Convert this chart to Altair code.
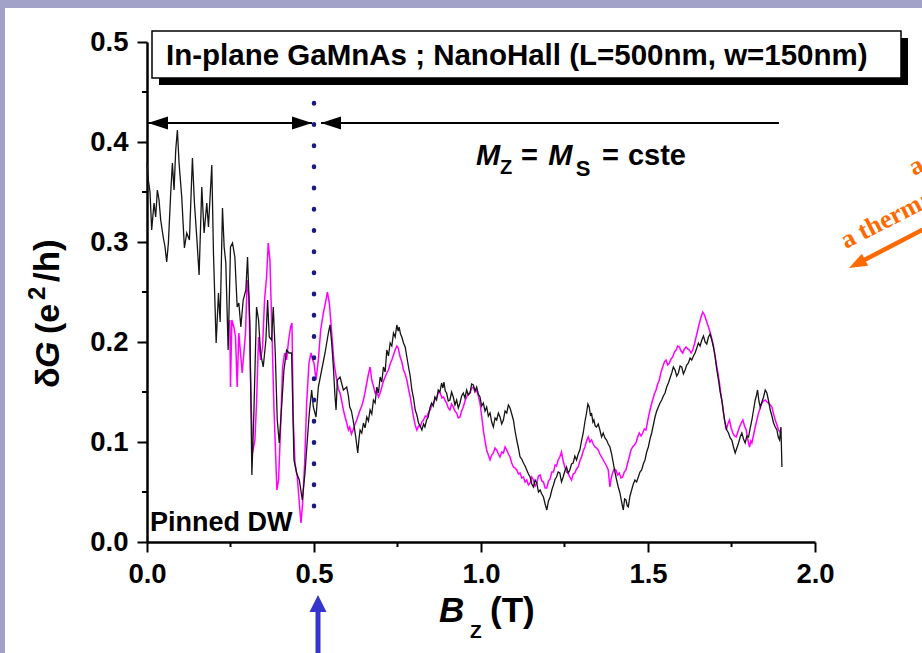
import altair as alt
import pandas as pd

# ---------------- data ----------------
black_pts = [
(0.000,0.379),(0.004,0.362),(0.009,0.350),(0.014,0.312),(0.021,0.339),(0.026,0.325),(0.031,0.352),(0.036,0.342),
(0.041,0.322),(0.049,0.304),(0.054,0.295),(0.059,0.280),(0.064,0.299),(0.071,0.349),(0.076,0.379),(0.081,0.352),
(0.086,0.392),(0.091,0.412),(0.096,0.379),(0.104,0.345),(0.112,0.294),(0.119,0.309),(0.127,0.302),(0.136,0.384),
(0.142,0.339),(0.149,0.305),(0.156,0.267),(0.164,0.355),(0.171,0.309),(0.179,0.339),(0.184,0.315),(0.194,0.377),
(0.199,0.289),(0.207,0.199),(0.214,0.249),(0.219,0.220),(0.226,0.334),(0.231,0.295),(0.236,0.279),(0.243,0.192),
(0.250,0.295),(0.256,0.299),(0.263,0.285),(0.270,0.235),(0.275,0.239),(0.281,0.215),(0.288,0.242),(0.296,0.252),
(0.301,0.285),(0.308,0.219),(0.314,0.067),(0.320,0.129),(0.328,0.235),(0.334,0.222),(0.340,0.189),(0.348,0.175),
(0.356,0.202),(0.361,0.242),(0.366,0.205),(0.373,0.202),(0.378,0.235),(0.384,0.189),(0.390,0.122),(0.396,0.099),
(0.403,0.135),(0.410,0.172),(0.418,0.192),(0.425,0.189),(0.433,0.189),(0.440,0.082),(0.448,0.069),(0.456,0.062),
(0.465,0.042),(0.473,0.069),(0.480,0.102),(0.486,0.129),(0.493,0.152),(0.498,0.135),(0.506,0.125),(0.513,0.155),
(0.523,0.172),(0.533,0.189),(0.543,0.209),(0.548,0.217),(0.553,0.199),(0.558,0.175),(0.563,0.145),(0.566,0.132),
(0.570,0.162),(0.578,0.165),(0.588,0.152),(0.598,0.155),(0.603,0.146),(0.607,0.135),(0.612,0.131),(0.617,0.122),
(0.621,0.114),(0.625,0.105),(0.631,0.089),(0.635,0.104),(0.638,0.112),(0.643,0.109),(0.648,0.119),(0.653,0.114),
(0.658,0.125),(0.663,0.121),(0.668,0.132),(0.673,0.128),(0.678,0.142),(0.683,0.139),(0.688,0.155),(0.693,0.149),
(0.698,0.165),(0.703,0.160),(0.708,0.175),(0.713,0.170),(0.718,0.192),(0.723,0.186),(0.728,0.199),(0.733,0.196),
(0.738,0.209),(0.743,0.205),(0.748,0.217),(0.752,0.211),(0.755,0.215),(0.759,0.208),(0.763,0.205),(0.768,0.199),
(0.773,0.195),(0.778,0.185),(0.783,0.175),(0.788,0.166),(0.793,0.152),(0.798,0.144),(0.803,0.132),(0.808,0.127),
(0.813,0.119),(0.818,0.116),(0.823,0.112),(0.828,0.118),(0.832,0.115),(0.837,0.122),(0.842,0.125),(0.847,0.134),
(0.852,0.139),(0.857,0.136),(0.862,0.145),(0.867,0.142),(0.872,0.152),(0.877,0.150),(0.882,0.159),(0.886,0.154),
(0.889,0.160),(0.893,0.151),(0.897,0.149),(0.902,0.141),(0.907,0.142),(0.912,0.150),(0.917,0.145),(0.922,0.137),
(0.927,0.142),(0.932,0.134),(0.937,0.139),(0.942,0.146),(0.947,0.149),(0.952,0.144),(0.957,0.152),(0.962,0.147),
(0.967,0.149),(0.972,0.158),(0.977,0.157),(0.982,0.151),(0.987,0.155),(0.992,0.148),(0.997,0.145),(1.002,0.136),
(1.007,0.139),(1.012,0.131),(1.017,0.135),(1.022,0.126),(1.027,0.129),(1.032,0.120),(1.037,0.115),(1.042,0.124),
(1.047,0.122),(1.052,0.129),(1.057,0.125),(1.062,0.118),(1.067,0.122),(1.072,0.131),(1.077,0.129),(1.082,0.137),
(1.087,0.134),(1.092,0.128),(1.097,0.122),(1.102,0.111),(1.107,0.102),(1.112,0.094),(1.117,0.085),(1.122,0.083),
(1.127,0.079),(1.132,0.076),(1.137,0.072),(1.142,0.068),(1.147,0.065),(1.152,0.058),(1.157,0.055),(1.162,0.062),
(1.167,0.059),(1.172,0.050),(1.177,0.052),(1.182,0.048),(1.187,0.045),(1.192,0.038),(1.197,0.032),(1.202,0.041),
(1.207,0.045),(1.212,0.052),(1.217,0.057),(1.222,0.063),(1.226,0.065),(1.231,0.070),(1.236,0.069),(1.241,0.060),
(1.246,0.065),(1.251,0.071),(1.256,0.075),(1.261,0.069),(1.266,0.072),(1.271,0.078),(1.276,0.079),(1.281,0.086),
(1.286,0.082),(1.291,0.088),(1.296,0.092),(1.301,0.101),(1.306,0.109),(1.311,0.120),(1.316,0.129),(1.320,0.138),
(1.324,0.135),(1.328,0.126),(1.331,0.129),(1.335,0.120),(1.338,0.122),(1.342,0.116),(1.346,0.115),(1.351,0.118),
(1.356,0.112),(1.361,0.105),(1.366,0.109),(1.371,0.104),(1.376,0.102),(1.381,0.098),(1.386,0.095),(1.391,0.088),
(1.396,0.079),(1.401,0.070),(1.406,0.062),(1.411,0.055),(1.416,0.049),(1.421,0.040),(1.426,0.032),(1.430,0.043),
(1.434,0.042),(1.438,0.036),(1.441,0.035),(1.446,0.046),(1.451,0.052),(1.456,0.058),(1.461,0.062),(1.466,0.060),
(1.471,0.065),(1.476,0.070),(1.481,0.072),(1.486,0.078),(1.491,0.082),(1.496,0.090),(1.501,0.095),(1.506,0.103),
(1.511,0.109),(1.516,0.117),(1.521,0.125),(1.526,0.131),(1.531,0.135),(1.536,0.139),(1.541,0.142),(1.546,0.146),
(1.551,0.149),(1.556,0.155),(1.561,0.159),(1.566,0.164),(1.571,0.169),(1.576,0.175),(1.581,0.172),(1.586,0.166),
(1.591,0.169),(1.596,0.176),(1.601,0.175),(1.606,0.168),(1.611,0.172),(1.616,0.177),(1.621,0.179),(1.626,0.184),
(1.631,0.182),(1.636,0.186),(1.641,0.189),(1.646,0.194),(1.651,0.199),(1.656,0.196),(1.661,0.202),(1.666,0.206),
(1.671,0.200),(1.676,0.198),(1.681,0.205),(1.686,0.208),(1.691,0.202),(1.696,0.195),(1.701,0.185),(1.706,0.172),
(1.711,0.162),(1.716,0.150),(1.721,0.142),(1.726,0.129),(1.731,0.119),(1.736,0.112),(1.741,0.109),(1.746,0.104),
(1.751,0.102),(1.756,0.095),(1.761,0.089),(1.766,0.094),(1.771,0.099),(1.776,0.105),(1.781,0.109),(1.786,0.103),
(1.791,0.099),(1.796,0.106),(1.801,0.105),(1.806,0.114),(1.811,0.122),(1.816,0.132),(1.821,0.142),(1.825,0.147),
(1.828,0.152),(1.832,0.141),(1.836,0.135),(1.841,0.140),(1.846,0.145),(1.851,0.152),(1.856,0.149),(1.861,0.141),
(1.866,0.132),(1.871,0.126),(1.876,0.119),(1.881,0.115),(1.886,0.112),(1.890,0.105),(1.894,0.102),(1.898,0.115),
(1.901,0.075),
]

magenta_pts = [
(0.248,0.222),(0.250,0.155),(0.254,0.222),(0.260,0.215),(0.265,0.205),(0.270,0.155),(0.275,0.209),(0.280,0.189),
(0.285,0.169),(0.290,0.189),(0.295,0.209),(0.300,0.262),(0.305,0.245),(0.310,0.162),(0.316,0.089),(0.323,0.102),
(0.328,0.139),(0.334,0.205),(0.340,0.182),(0.346,0.195),(0.352,0.242),(0.358,0.265),(0.363,0.299),(0.368,0.282),
(0.374,0.212),(0.380,0.135),(0.385,0.089),(0.389,0.052),(0.394,0.062),(0.400,0.115),(0.406,0.175),(0.412,0.189),
(0.418,0.182),(0.424,0.202),(0.430,0.215),(0.434,0.219),(0.438,0.122),(0.443,0.079),(0.450,0.065),(0.456,0.039),
(0.461,0.019),(0.466,0.039),(0.472,0.079),(0.478,0.139),(0.485,0.179),(0.491,0.189),(0.496,0.182),(0.500,0.179),
(0.506,0.162),(0.513,0.182),(0.520,0.212),(0.528,0.229),(0.536,0.242),(0.540,0.250),(0.546,0.239),(0.553,0.209),
(0.560,0.179),(0.568,0.162),(0.573,0.153),(0.578,0.149),(0.583,0.141),(0.588,0.132),(0.593,0.125),(0.598,0.119),
(0.603,0.112),(0.607,0.115),(0.612,0.108),(0.617,0.112),(0.622,0.117),(0.628,0.122),(0.633,0.127),(0.638,0.132),
(0.643,0.136),(0.648,0.142),(0.653,0.150),(0.658,0.159),(0.663,0.168),(0.668,0.175),(0.673,0.162),(0.678,0.156),
(0.683,0.149),(0.688,0.151),(0.693,0.145),(0.698,0.149),(0.703,0.155),(0.708,0.161),(0.713,0.165),(0.718,0.169),
(0.723,0.172),(0.728,0.178),(0.733,0.182),(0.738,0.187),(0.743,0.192),(0.748,0.196),(0.752,0.194),(0.758,0.185),
(0.763,0.180),(0.768,0.172),(0.773,0.168),(0.778,0.162),(0.783,0.153),(0.788,0.145),(0.793,0.135),(0.798,0.125),
(0.803,0.117),(0.808,0.112),(0.813,0.116),(0.818,0.115),(0.823,0.120),(0.828,0.122),(0.833,0.126),(0.838,0.125),
(0.843,0.130),(0.848,0.132),(0.853,0.137),(0.858,0.139),(0.863,0.143),(0.868,0.145),(0.873,0.150),(0.878,0.149),
(0.883,0.144),(0.888,0.145),(0.893,0.141),(0.897,0.139),(0.902,0.134),(0.907,0.132),(0.912,0.138),(0.917,0.135),
(0.922,0.131),(0.927,0.129),(0.932,0.124),(0.937,0.125),(0.942,0.131),(0.947,0.135),(0.952,0.141),(0.957,0.145),
(0.962,0.148),(0.967,0.149),(0.972,0.154),(0.977,0.155),(0.982,0.150),(0.987,0.152),(0.992,0.146),(0.997,0.139),
(1.002,0.126),(1.007,0.112),(1.012,0.101),(1.017,0.092),(1.022,0.087),(1.027,0.082),(1.032,0.087),(1.037,0.089),
(1.042,0.094),(1.047,0.092),(1.052,0.088),(1.057,0.085),(1.062,0.090),(1.067,0.089),(1.072,0.095),(1.077,0.092),
(1.082,0.088),(1.087,0.085),(1.092,0.079),(1.097,0.075),(1.102,0.074),(1.107,0.072),(1.112,0.068),(1.117,0.069),
(1.122,0.064),(1.127,0.065),(1.132,0.060),(1.137,0.062),(1.142,0.057),(1.147,0.059),(1.152,0.065),(1.157,0.062),
(1.162,0.056),(1.167,0.059),(1.172,0.066),(1.177,0.067),(1.182,0.061),(1.187,0.060),(1.192,0.054),(1.197,0.054),
(1.202,0.061),(1.207,0.063),(1.212,0.070),(1.217,0.070),(1.222,0.077),(1.226,0.076),(1.231,0.082),(1.236,0.085),
(1.241,0.090),(1.246,0.081),(1.251,0.075),(1.256,0.070),(1.261,0.069),(1.266,0.065),(1.271,0.062),(1.276,0.068),
(1.281,0.069),(1.286,0.073),(1.291,0.075),(1.296,0.081),(1.301,0.085),(1.306,0.091),(1.311,0.095),(1.316,0.101),
(1.321,0.105),(1.326,0.100),(1.331,0.102),(1.336,0.098),(1.341,0.095),(1.346,0.094),(1.351,0.092),(1.356,0.088),
(1.361,0.085),(1.366,0.082),(1.371,0.079),(1.376,0.076),(1.381,0.072),(1.386,0.055),(1.390,0.064),(1.394,0.069),
(1.399,0.073),(1.404,0.072),(1.409,0.067),(1.414,0.069),(1.419,0.064),(1.424,0.065),(1.429,0.070),(1.434,0.072),
(1.439,0.079),(1.444,0.085),(1.449,0.092),(1.454,0.095),(1.459,0.097),(1.464,0.099),(1.469,0.105),(1.474,0.109),
(1.479,0.106),(1.484,0.109),(1.489,0.113),(1.494,0.112),(1.499,0.121),(1.504,0.129),(1.509,0.136),(1.514,0.142),
(1.519,0.148),(1.524,0.152),(1.529,0.158),(1.534,0.162),(1.539,0.170),(1.544,0.175),(1.549,0.180),(1.554,0.182),
(1.559,0.177),(1.564,0.179),(1.569,0.183),(1.574,0.185),(1.579,0.190),(1.584,0.192),(1.589,0.196),(1.594,0.195),
(1.599,0.191),(1.604,0.189),(1.609,0.193),(1.614,0.195),(1.619,0.193),(1.624,0.192),(1.629,0.189),(1.634,0.192),
(1.639,0.198),(1.644,0.205),(1.649,0.212),(1.654,0.219),(1.659,0.225),(1.664,0.230),(1.669,0.227),(1.674,0.222),
(1.679,0.217),(1.684,0.212),(1.689,0.206),(1.694,0.199),(1.699,0.190),(1.704,0.179),(1.709,0.170),(1.714,0.159),
(1.719,0.146),(1.724,0.135),(1.729,0.122),(1.734,0.112),(1.739,0.118),(1.744,0.122),(1.749,0.114),(1.754,0.109),
(1.759,0.106),(1.764,0.105),(1.769,0.110),(1.774,0.115),(1.779,0.119),(1.784,0.122),(1.789,0.116),(1.794,0.112),
(1.799,0.102),(1.804,0.095),(1.808,0.101),(1.811,0.099),(1.816,0.107),(1.821,0.115),(1.826,0.122),(1.831,0.129),
(1.836,0.134),(1.841,0.139),(1.846,0.141),(1.851,0.142),(1.856,0.140),(1.861,0.139),(1.866,0.137),(1.871,0.135),
(1.876,0.128),(1.881,0.122),(1.886,0.117),(1.891,0.112),(1.895,0.110),(1.898,0.109),
]

x_major = [0.0, 0.5, 1.0, 1.5, 2.0]
x_minor = [0.25, 0.75, 1.25, 1.75]
y_major = [0.0, 0.1, 0.2, 0.3, 0.4, 0.5]
y_minor = [0.05, 0.15, 0.25, 0.35, 0.45]

# arrows (B in T, dG in e^2/h)
arrow_y = 0.419
arrow_lines = pd.DataFrame({"x": [0.003, 0.521], "x2": [0.494, 1.892], "y": [arrow_y, arrow_y]})
heads_left = pd.DataFrame({"x": [0.003, 0.521], "y": [arrow_y, arrow_y]})
heads_right = pd.DataFrame({"x": [0.494], "y": [arrow_y]})
dw_line = pd.DataFrame({"x": [0.5], "y": [0.439], "y2": [0.015]})

bold_txt = pd.DataFrame({
    "x": [1.057, 1.120, 1.284, 1.362, 1.440, 0.009],
    "y": [0.368, 0.377, 0.366, 0.377, 0.377, 0.011],
    "t": ["Z", "=", "S", "=", "cste", "Pinned DW"],
    "fs": [20, 29, 22, 29, 29, 27],
})
ital_txt = pd.DataFrame({"x": [0.985, 1.201], "y": [0.377, 0.377], "t": ["M", "M"], "fs": [29, 29]})

# ---------------- chart ----------------
FONT = "Liberation Sans"
xs = alt.Scale(domain=[0, 2], nice=False, zero=False)
ys = alt.Scale(domain=[0, 0.5], nice=False, zero=False)

axis_common = dict(format=".1f", title=None, tickSize=10, tickWidth=2, domainWidth=2.5,
                   labelFontSize=27.5, labelFontWeight="bold", labelFont=FONT, labelColor="black",
                   domainColor="black", tickColor="black", grid=False, labelFlush=False)
AX = alt.Axis(values=x_major, labelPadding=8, **axis_common)
AY = alt.Axis(values=y_major, labelPadding=9, **axis_common)


def X(f):
    return alt.X(f, scale=xs, axis=AX, title=None)


def Y(f):
    return alt.Y(f, scale=ys, axis=AY, title=None)


bdf = pd.DataFrame(black_pts, columns=["B", "dG"])
mdf = pd.DataFrame(magenta_pts, columns=["B", "dG"])

magenta_line = alt.Chart(mdf).mark_line(color="#ff00ff", strokeWidth=1.5).encode(
    x=X("B:Q"), y=Y("dG:Q"))
black_line = alt.Chart(bdf).mark_line(color="#151515", strokeWidth=1.3).encode(
    x=X("B:Q"), y=Y("dG:Q"))

xminor = alt.Chart(pd.DataFrame({"B": x_minor})).mark_rule(color="black", strokeWidth=2).encode(
    x=X("B:Q"), y=alt.value(500), y2=alt.value(505))
yminor = alt.Chart(pd.DataFrame({"dG": y_minor})).mark_rule(color="black", strokeWidth=2).encode(
    y=Y("dG:Q"), x=alt.value(-5), x2=alt.value(0))

arrows = alt.Chart(arrow_lines).mark_rule(color="black", strokeWidth=2).encode(
    x=X("x:Q"), x2="x2:Q", y=Y("y:Q"))
hl = alt.Chart(heads_left).mark_point(shape="M 0 0 L 2 -0.65 L 2 0.65 Z", filled=True, size=400,
                                      color="black", opacity=1).encode(x=X("x:Q"), y=Y("y:Q"))
hr = alt.Chart(heads_right).mark_point(shape="M 0 0 L -2 -0.65 L -2 0.65 Z", filled=True, size=400,
                                       color="black", opacity=1).encode(x=X("x:Q"), y=Y("y:Q"))
dots = alt.Chart(dw_line).mark_rule(color="#1b1b7a", strokeWidth=4.5, strokeDash=[0.5, 20.7],
                                    strokeCap="round").encode(x=X("x:Q"), y=Y("y:Q"), y2="y2:Q")

btxt = alt.Chart(bold_txt).mark_text(align="left", baseline="alphabetic", fontWeight="bold",
                                     font=FONT, color="black").encode(
    x=X("x:Q"), y=Y("y:Q"), text="t:N", size=alt.Size("fs:Q", scale=None, legend=None))
itxt = alt.Chart(ital_txt).mark_text(align="left", baseline="alphabetic", fontWeight="bold",
                                     fontStyle="italic", font=FONT, color="black").encode(
    x=X("x:Q"), y=Y("y:Q"), text="t:N", size=alt.Size("fs:Q", scale=None, legend=None))

ONE = alt.Data(values=[{}])


def ptext(t, x, y, fs, style="normal", angle=0, color="black", font=FONT):
    return alt.Chart(ONE).mark_text(text=t, align="left", baseline="alphabetic", fontSize=fs,
                                    fontWeight="bold", fontStyle=style, angle=angle,
                                    color=color, font=font).encode(x=alt.value(x), y=alt.value(y))


def prect(x, x2, y, y2, **kw):
    return alt.Chart(ONE).mark_rect(**kw).encode(x=alt.value(x), x2=alt.value(x2),
                                                 y=alt.value(y), y2=alt.value(y2))


LAV = "#a2a2c8"
decor = [
    prect(-147, 775, -42, -34, color=LAV),
    prect(-147, -142, -42, 611, color=LAV),
    prect(12, 761, -4, 43, color="black"),
    prect(5, 754, -11, 36, fill="white", stroke="black", strokeWidth=1.5),
]

ORANGE = "#ff6a00"
BLUE = "#3535cc"
texts = [
    ptext("In-plane GaMnAs ; NanoHall (L=500nm, w=150nm)", 19, 23, 29.5),
    # x title
    ptext("B", 292, 580, 35, style="italic"),
    ptext("Z", 323, 596, 19),
    ptext("(T)", 343, 580, 35),
    # y title (rotated)
    ptext("\u03b4", -88, 346, 34, angle=270),
    ptext("G", -88, 326, 34, style="italic", angle=270),
    ptext("(e", -88, 292, 34, angle=270),
    ptext("2", -102, 258, 24, angle=270),
    ptext("/h)", -88, 240, 35, angle=270),
    # orange slide text (cropped at the page edge, as in the reference)
    ptext("a", 767, 134, 26, angle=333, color=ORANGE, font="Liberation Serif"),
    ptext("a thermally activated", 699, 207, 26, angle=333, color=ORANGE, font="Liberation Serif"),
]

slide_arrows = [
    alt.Chart(ONE).mark_rule(color=ORANGE, strokeWidth=4.5).encode(
        x=alt.value(780), y=alt.value(185.4), x2=alt.value(711), y2=alt.value(221.3)),
    alt.Chart(ONE).mark_point(shape="M 0 0 L 2 -0.75 L 2 0.75 Z", filled=True, size=324, color=ORANGE,
                              opacity=1, angle=332.5).encode(x=alt.value(702), y=alt.value(226)),
    alt.Chart(ONE).mark_rule(color=BLUE, strokeWidth=5).encode(
        x=alt.value(171), y=alt.value(615), y2=alt.value(565)),
    alt.Chart(ONE).mark_point(shape="M 0 0 L -0.85 1.7 L 0.85 1.7 Z", filled=True, size=400, color=BLUE,
                              opacity=1).encode(x=alt.value(171), y=alt.value(553)),
]

chart = alt.layer(
    magenta_line, black_line, *decor, xminor, yminor, arrows, hl, hr, dots, btxt, itxt,
    *texts, *slide_arrows
).properties(
    width=668, height=500,
    autosize=alt.AutoSizeParams(type="none"),
    padding={"left": 147, "top": 42, "right": 107, "bottom": 111},
).configure(background="white").configure_view(stroke=None)

chart.save("out.html", embed_options={"renderer": "svg", "actions": False})
